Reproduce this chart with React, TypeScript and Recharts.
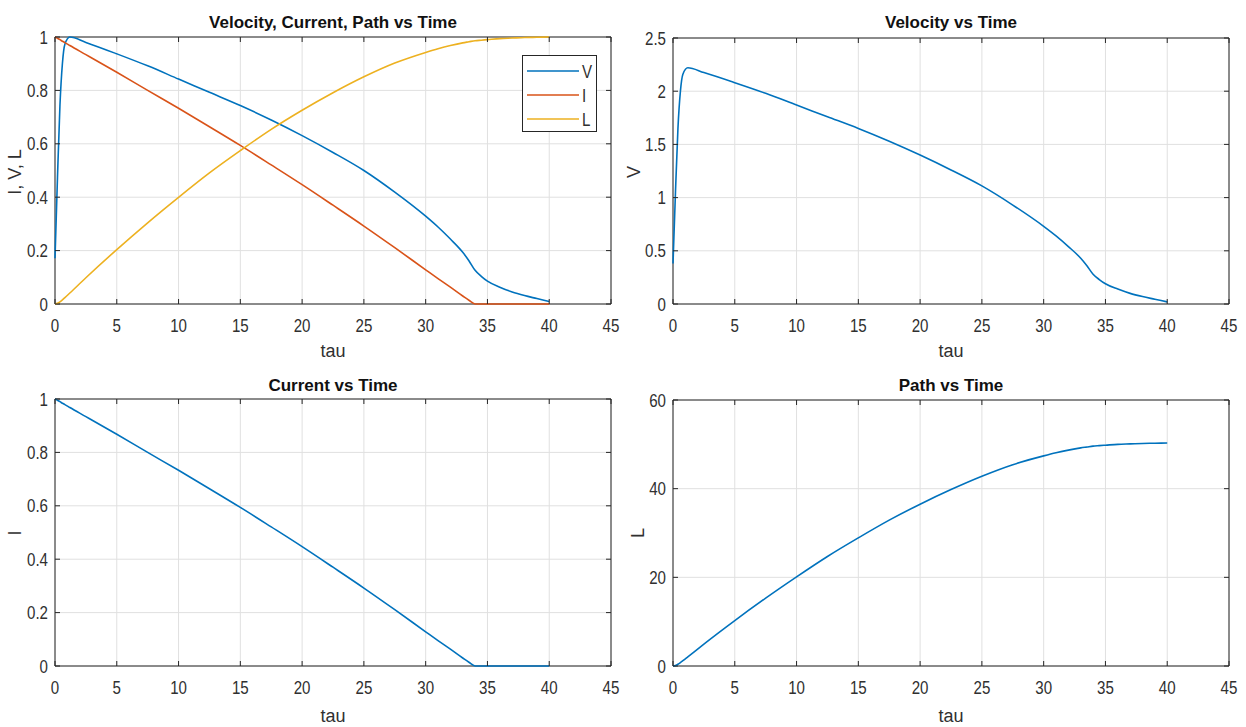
import React from 'react';
import { LineChart, Line, XAxis, YAxis, CartesianGrid, ReferenceArea } from 'recharts';

// ---- data ----
const tau = [0, 0.2, 0.4, 0.6, 0.8, 1.2, 2.5, 5, 7.5, 10, 12.5, 15, 17.5, 20, 22.5, 25, 27.5, 30, 31, 32, 33, 33.5, 34, 34.5, 35, 36, 37, 38, 39, 40];
const velocity = [0.38, 1.05, 1.65, 2.0, 2.16, 2.22, 2.175, 2.08, 1.98, 1.87, 1.76, 1.65, 1.53, 1.4, 1.26, 1.11, 0.93, 0.73, 0.64, 0.54, 0.43, 0.36, 0.28, 0.23, 0.19, 0.14, 0.1, 0.07, 0.045, 0.02];
const current = [1, 0.995, 0.99, 0.984, 0.979, 0.968, 0.934, 0.868, 0.8, 0.733, 0.664, 0.594, 0.521, 0.447, 0.37, 0.292, 0.211, 0.128, 0.095, 0.063, 0.03, 0.014, 0, 0, 0, 0, 0, 0, 0, 0];
const path = [0, 0.14, 0.41, 0.78, 1.2, 2.07, 4.95, 10.25, 15.3, 20.1, 24.7, 28.9, 32.9, 36.5, 39.8, 42.8, 45.4, 47.4, 48.1, 48.7, 49.2, 49.4, 49.6, 49.7, 49.8, 50.0, 50.1, 50.2, 50.25, 50.3];

const xTicks = [0, 5, 10, 15, 20, 25, 30, 35, 40, 45];
const yTicksUnit = [0, 0.2, 0.4, 0.6, 0.8, 1];
const yTicksV = [0, 0.5, 1, 1.5, 2, 2.5];
const yTicksL = [0, 20, 40, 60];

const vMax = Math.max(...velocity);
const lMax = Math.max(...path);
const rows = tau.map((t, k) => ({
  tau: t,
  v: velocity[k],
  i: current[k],
  l: path[k],
  vn: velocity[k] / vMax,
  ln: path[k] / lMax,
}));

// ---- styles ----
const FONT = "'Liberation Sans', Arial, Helvetica, sans-serif";
const AX = '#262626';
const TXT = '#303030';
const GRID = '#e0e0e0';
const BLUE = '#0072BD';
const ORANGE = '#D95319';
const YELLOW = '#EDB120';
const PLOT_W = 556;
const TICK_SX = 0.84;

function SText(props: any) {
  const { x, y, sx = 1, rot = 0, children, ...rest } = props;
  return (
    <text
      transform={`translate(${x},${y}) rotate(${rot}) scale(${sx},1)`}
      fontFamily={FONT}
      fill={TXT}
      {...rest}
    >
      {children}
    </text>
  );
}

const makeXTick = (plotH: number) => (props: any) => {
  const { x, y, payload } = props;
  return (
    <g>
      <line x1={x} x2={x} y1={y} y2={y - 5} stroke={AX} />
      <line x1={x} x2={x} y1={y - plotH} y2={y - plotH + 5} stroke={AX} />
      <SText x={x} y={y + 28} sx={TICK_SX} textAnchor="middle" fontSize={18}>
        {String(payload.value)}
      </SText>
    </g>
  );
};

const makeYTick = (plotW: number) => (props: any) => {
  const { x, y, payload } = props;
  return (
    <g>
      <line x1={x} x2={x + 5} y1={y} y2={y} stroke={AX} />
      <line x1={x + plotW} x2={x + plotW - 5} y1={y} y2={y} stroke={AX} />
      <SText x={x - 7} y={y + 6.5} sx={TICK_SX} textAnchor="end" fontSize={18}>
        {String(payload.value)}
      </SText>
    </g>
  );
};

type Series = { key: string; color: string };

function Panel(props: {
  left: number;
  top: number;
  height: number;
  plotTop: number;
  plotBottom: number;
  yTicks: number[];
  series: Series[];
}) {
  const { left, top, height, plotTop, plotBottom, yTicks, series } = props;
  const yMax = yTicks[yTicks.length - 1];
  const plotH = plotBottom - plotTop;
  // axes have thickness 1 (0-size axes are not drawn), so margins compensate
  const margin = { top: plotTop, right: 12, bottom: height - plotBottom - 1, left: 54 };
  return (
    <div style={{ position: 'absolute', left, top }}>
      <LineChart width={623} height={height} data={rows} margin={margin}>
        <CartesianGrid stroke={GRID} strokeWidth={1} />
        <XAxis
          dataKey="tau"
          type="number"
          domain={[0, 45]}
          ticks={xTicks}
          height={1}
          tickSize={0}
          tickMargin={0}
          tickLine={false}
          axisLine={false}
          interval={0}
          tick={makeXTick(plotH)}
        />
        <YAxis
          type="number"
          domain={[0, yMax]}
          ticks={yTicks}
          width={1}
          tickSize={0}
          tickMargin={0}
          tickLine={false}
          axisLine={false}
          interval={0}
          tick={makeYTick(PLOT_W)}
        />
        <ReferenceArea x1={0} x2={45} y1={0} y2={yMax} fill="none" stroke={AX} strokeWidth={1} />
        {series.map((s) => (
          <Line
            key={s.key}
            dataKey={s.key}
            type="monotone"
            stroke={s.color}
            strokeWidth={1.6}
            dot={false}
            isAnimationActive={false}
          />
        ))}
      </LineChart>
    </div>
  );
}

export default function App() {
  return (
    <div style={{ position: 'absolute', left: 0, top: 0, width: 1246, height: 727, background: '#fff', overflow: 'hidden' }}>
      <Panel
        left={0}
        top={0}
        height={363}
        plotTop={37}
        plotBottom={304}
        yTicks={yTicksUnit}
        series={[
          { key: 'vn', color: BLUE },
          { key: 'i', color: ORANGE },
          { key: 'ln', color: YELLOW },
        ]}
      />
      <Panel
        left={618}
        top={0}
        height={363}
        plotTop={38}
        plotBottom={304}
        yTicks={yTicksV}
        series={[{ key: 'v', color: BLUE }]}
      />
      <Panel
        left={0}
        top={363}
        height={364}
        plotTop={36}
        plotBottom={303}
        yTicks={yTicksUnit}
        series={[{ key: 'i', color: BLUE }]}
      />
      <Panel
        left={618}
        top={363}
        height={364}
        plotTop={37}
        plotBottom={303}
        yTicks={yTicksL}
        series={[{ key: 'l', color: BLUE }]}
      />

      {/* legend */}
      <div
        style={{
          position: 'absolute',
          left: 522,
          top: 55,
          width: 75,
          height: 77,
          boxSizing: 'border-box',
          border: `1px solid ${AX}`,
          background: '#fff',
        }}
      >
        <svg width={73} height={75} style={{ display: 'block' }}>
          {[
            { name: 'V', color: BLUE },
            { name: 'I', color: ORANGE },
            { name: 'L', color: YELLOW },
          ].map((it, k) => (
            <g key={it.name}>
              <line x1={4} x2={56} y1={15 + k * 24} y2={15 + k * 24} stroke={it.color} strokeWidth={1.6} />
              <SText x={59} y={21.5 + k * 24} sx={TICK_SX} fontSize={18}>
                {it.name}
              </SText>
            </g>
          ))}
        </svg>
      </div>

      {/* titles and axis labels */}
      <svg width={1246} height={727} style={{ position: 'absolute', left: 0, top: 0, pointerEvents: 'none' }}>
        <SText x={333} y={28} textAnchor="middle" fontSize={17} fontWeight="bold" fill="#111">Velocity, Current, Path vs Time</SText>
        <SText x={951} y={28} textAnchor="middle" fontSize={17} fontWeight="bold" fill="#111">Velocity vs Time</SText>
        <SText x={333} y={391} textAnchor="middle" fontSize={17} fontWeight="bold" fill="#111">Current vs Time</SText>
        <SText x={951} y={391} textAnchor="middle" fontSize={17} fontWeight="bold" fill="#111">Path vs Time</SText>

        <SText x={333} y={357} textAnchor="middle" fontSize={18}>tau</SText>
        <SText x={951} y={357} textAnchor="middle" fontSize={18}>tau</SText>
        <SText x={333} y={722} textAnchor="middle" fontSize={18}>tau</SText>
        <SText x={951} y={722} textAnchor="middle" fontSize={18}>tau</SText>

        <SText x={21} y={172} rot={-90} textAnchor="middle" fontSize={18}>I, V, L</SText>
        <SText x={640} y={172} rot={-90} textAnchor="middle" fontSize={18}>V</SText>
        <SText x={21} y={533} rot={-90} textAnchor="middle" fontSize={18}>I</SText>
        <SText x={644} y={533} rot={-90} textAnchor="middle" fontSize={18}>L</SText>
      </svg>
    </div>
  );
}
